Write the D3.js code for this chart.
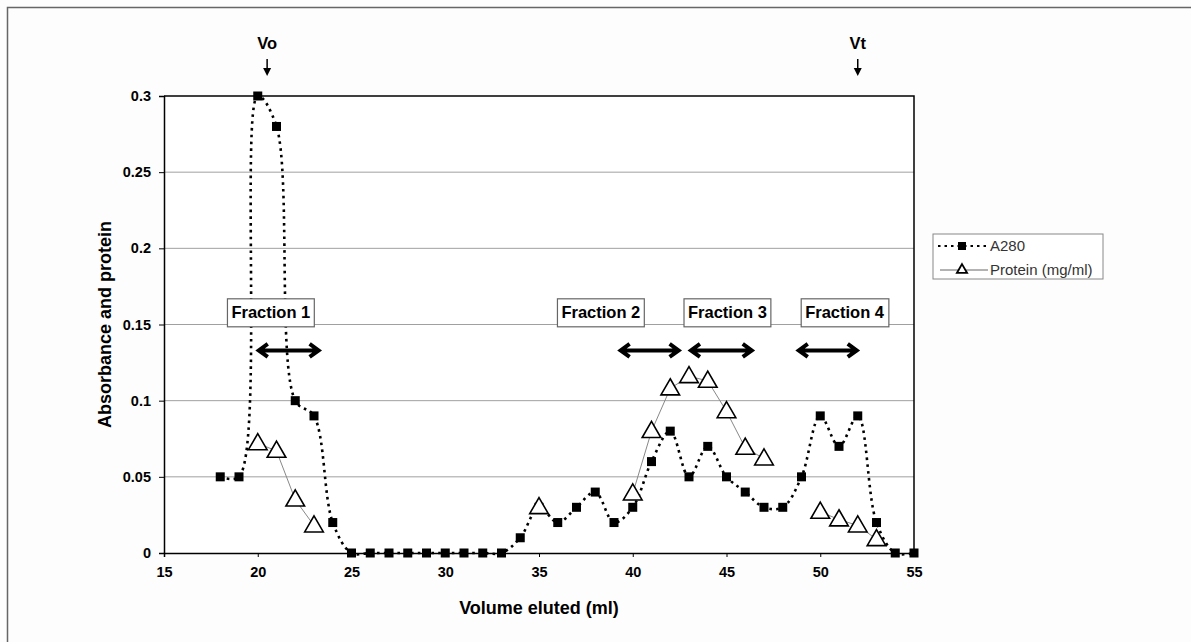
<!DOCTYPE html>
<html>
<head>
<meta charset="utf-8">
<script src="https://cdn.jsdelivr.net/npm/d3@7"></script>
<style>
  body { margin: 0; background: #fdfdfd; }
  svg { display: block; font-family: "Liberation Sans", Arial, sans-serif; }
</style>
</head>
<body>
<div id="chart"></div>
<script>
// elution volume (ml) for every collected fraction
const volume = [18, 19, 20, 21, 22, 23, 24, 25, 26, 27, 28, 29, 30, 31, 32, 33, 34, 35, 36,
  37, 38, 39, 40, 41, 42, 43, 44, 45, 46, 47, 48, 49, 50, 51, 52, 53, 54, 55];
const a280 = [0.05, 0.05, 0.30, 0.28, 0.10, 0.09, 0.02, 0, 0, 0, 0, 0, 0, 0, 0, 0, 0.01, 0.03, 0.02,
  0.03, 0.04, 0.02, 0.03, 0.06, 0.08, 0.05, 0.07, 0.05, 0.04, 0.03, 0.03, 0.05, 0.09, 0.07, 0.09, 0.02, 0, 0];
// protein only measured on some fractions
const protein = [null, null, 0.072, 0.067, 0.035, 0.018, null, null, null, null, null, null, null, null, null, null, null, 0.030, null,
  null, null, null, 0.039, 0.080, 0.108, 0.116, 0.113, 0.093, 0.069, 0.062, null, null, 0.027, 0.022, 0.018, 0.009, null, null];

const xTicks = [15, 20, 25, 30, 35, 40, 45, 50, 55];
const yTicks = [0, 0.05, 0.1, 0.15, 0.2, 0.25, 0.3];

const fractionNames = ["Fraction 1", "Fraction 2", "Fraction 3", "Fraction 4"];
const fractionLabelAt = [20.7, 38.3, 45.05, 51.3];
const fractionFrom = [20.0, 39.3, 43.05, 48.8];
const fractionTo = [23.3, 42.5, 46.4, 52.0];

const markerNames = ["Vo", "Vt"];
const markerAt = [20.5, 52];

const width = 1191, height = 642;
const margin = {left: 164, top: 96, right: 277, bottom: 89};

const svg = d3.select("#chart").append("svg")
  .attr("width", width)
  .attr("height", height);

// outer frame
svg.append("rect")
  .attr("x", 7.5).attr("y", 7.5)
  .attr("width", width + 20).attr("height", height + 20)
  .attr("fill", "#fdfdfd")
  .attr("stroke", "#666")
  .attr("stroke-width", 1.5);

const x = d3.scaleLinear().domain([15, 55]).range([margin.left, width - margin.right]);
const y = d3.scaleLinear().domain([0, 0.3]).range([height - margin.bottom, margin.top]);

svg.append("rect")
  .attr("x", x(15)).attr("y", y(0.3))
  .attr("width", x(55) - x(15)).attr("height", y(0) - y(0.3))
  .attr("fill", "#fff");

// gridlines
svg.append("g")
  .selectAll("line")
  .data(yTicks.filter(d => d > 0 && d < 0.3))
  .enter().append("line")
  .attr("x1", x(15)).attr("x2", x(55))
  .attr("y1", d => y(d)).attr("y2", d => y(d))
  .attr("stroke", "#a0a0a0")
  .attr("stroke-width", 1);

// axes
const yAxis = svg.append("g")
  .attr("transform", `translate(${x(15)},0)`)
  .call(d3.axisLeft(y).tickValues(yTicks).tickFormat(d => d).tickSizeOuter(0).tickSize(5).tickPadding(8));
const xAxis = svg.append("g")
  .attr("transform", `translate(0,${y(0)})`)
  .call(d3.axisBottom(x).tickValues(xTicks).tickSizeOuter(0).tickSize(4).tickPadding(10));
for (const ax of [xAxis, yAxis]) {
  ax.select(".domain").attr("stroke", "#000").attr("stroke-width", 1.5);
  ax.selectAll(".tick line").attr("stroke", "#000").attr("stroke-width", 1);
  ax.selectAll(".tick text")
    .attr("font-size", 14.5)
    .attr("font-weight", "bold")
    .attr("fill", "#000")
    .attr("font-family", "'Liberation Sans', Arial, sans-serif");
}

// top and right border of the plot area
svg.append("path")
  .attr("d", `M${x(15)},${y(0.3)}H${x(55)}V${y(0)}`)
  .attr("fill", "none")
  .attr("stroke", "#000")
  .attr("stroke-width", 1.5);

// axis titles
svg.append("text")
  .attr("x", (x(15) + x(55)) / 2)
  .attr("y", 614)
  .attr("text-anchor", "middle")
  .attr("font-size", 18)
  .attr("font-weight", "bold")
  .text("Volume eluted (ml)");
svg.append("text")
  .attr("transform", `translate(111,${(y(0) + y(0.3)) / 2}) rotate(-90)`)
  .attr("text-anchor", "middle")
  .attr("font-size", 18)
  .attr("font-weight", "bold")
  .text("Absorbance and protein");

const a280Data = volume.map((v, i) => ({x: v, y: a280[i]}));
const proteinData = volume.map((v, i) => ({x: v, y: protein[i]}));

// A280 - smoothed dotted line
svg.append("path")
  .datum(a280Data)
  .attr("fill", "none")
  .attr("stroke", "#000")
  .attr("stroke-width", 2.6)
  .attr("stroke-dasharray", "2.6,4.2")
  .attr("d", d3.line().x(d => x(d.x)).y(d => y(d.y)).curve(d3.curveCatmullRom.alpha(0.5)));

// protein - thin grey line, broken where not measured
svg.append("path")
  .datum(proteinData)
  .attr("fill", "none")
  .attr("stroke", "#888")
  .attr("stroke-width", 1)
  .attr("d", d3.line().defined(d => d.y != null).x(d => x(d.x)).y(d => y(d.y)));

svg.append("g")
  .selectAll("rect")
  .data(a280Data)
  .enter().append("rect")
  .attr("x", d => x(d.x) - 4.5)
  .attr("y", d => y(d.y) - 4.5)
  .attr("width", 9).attr("height", 9)
  .attr("fill", "#000");

const tri = d3.symbol().type(d3.symbolTriangle).size(150);
svg.append("g")
  .selectAll("path")
  .data(proteinData.filter(d => d.y != null))
  .enter().append("path")
  .attr("transform", d => `translate(${x(d.x)},${y(d.y) + 1})`)
  .attr("d", tri)
  .attr("fill", "#fff")
  .attr("stroke", "#000")
  .attr("stroke-width", 1.6);

// Vo / Vt markers
const marks = svg.append("g");
markerNames.forEach((name, i) => {
  const mx = x(markerAt[i]);
  marks.append("text")
    .attr("x", mx).attr("y", 49)
    .attr("text-anchor", "middle")
    .attr("font-size", 16.5)
    .attr("font-weight", "bold")
    .text(name);
  marks.append("line")
    .attr("x1", mx).attr("x2", mx)
    .attr("y1", 59).attr("y2", 69)
    .attr("stroke", "#000").attr("stroke-width", 1.5);
  marks.append("path")
    .attr("d", `M${mx - 4},${68}L${mx + 4},${68}L${mx},${76}Z`)
    .attr("fill", "#000");
});

// fraction labels and ranges
const frac = svg.append("g");
fractionNames.forEach((name, i) => {
  const cx = x(fractionLabelAt[i]);
  const cy = y(0.158);
  const t = frac.append("text")
    .attr("x", cx).attr("y", cy + 6)
    .attr("text-anchor", "middle")
    .attr("font-size", 16.5)
    .attr("font-weight", "bold")
    .text(name);
  const bb = t.node().getBBox();
  frac.insert("rect", "text")
    .attr("x", bb.x - 4).attr("y", cy - 13.5)
    .attr("width", bb.width + 8).attr("height", 28)
    .attr("fill", "#fff")
    .attr("stroke", "#666")
    .attr("stroke-width", 1.2);

  const x1 = x(fractionFrom[i]), x2 = x(fractionTo[i]);
  const ay = y(0.133);
  frac.append("path")
    .attr("d", `M${x1 + 2},${ay}H${x2 - 2}M${x1 + 10},${ay - 6.5}L${x1 + 1},${ay}L${x1 + 10},${ay + 6.5}M${x2 - 10},${ay - 6.5}L${x2 - 1},${ay}L${x2 - 10},${ay + 6.5}`)
    .attr("fill", "none")
    .attr("stroke", "#000")
    .attr("stroke-width", 4)
    .attr("stroke-linejoin", "miter")
    .attr("stroke-linecap", "butt");
});

// legend
const legend = svg.append("g").attr("transform", "translate(933,234)");
legend.append("rect")
  .attr("width", 170).attr("height", 45)
  .attr("fill", "#fff")
  .attr("stroke", "#888")
  .attr("stroke-width", 1);
legend.append("line")
  .attr("x1", 5).attr("x2", 55).attr("y1", 12).attr("y2", 12)
  .attr("stroke", "#000").attr("stroke-width", 2)
  .attr("stroke-dasharray", "2.5,4");
legend.append("rect")
  .attr("x", 25).attr("y", 8).attr("width", 8).attr("height", 8)
  .attr("fill", "#000");
legend.append("line")
  .attr("x1", 7).attr("x2", 55).attr("y1", 36).attr("y2", 36)
  .attr("stroke", "#666").attr("stroke-width", 1);
legend.append("path")
  .attr("transform", "translate(29,36)")
  .attr("d", d3.symbol().type(d3.symbolTriangle).size(45))
  .attr("fill", "#fff")
  .attr("stroke", "#000")
  .attr("stroke-width", 1.8);
legend.selectAll("text.lbl")
  .data(["A280", "Protein (mg/ml)"])
  .enter().append("text")
  .attr("class", "lbl")
  .attr("x", 57)
  .attr("y", (d, i) => 17 + i * 24)
  .attr("font-size", 15)
  .attr("fill", "#333")
  .text(d => d);
</script>
</body>
</html>
